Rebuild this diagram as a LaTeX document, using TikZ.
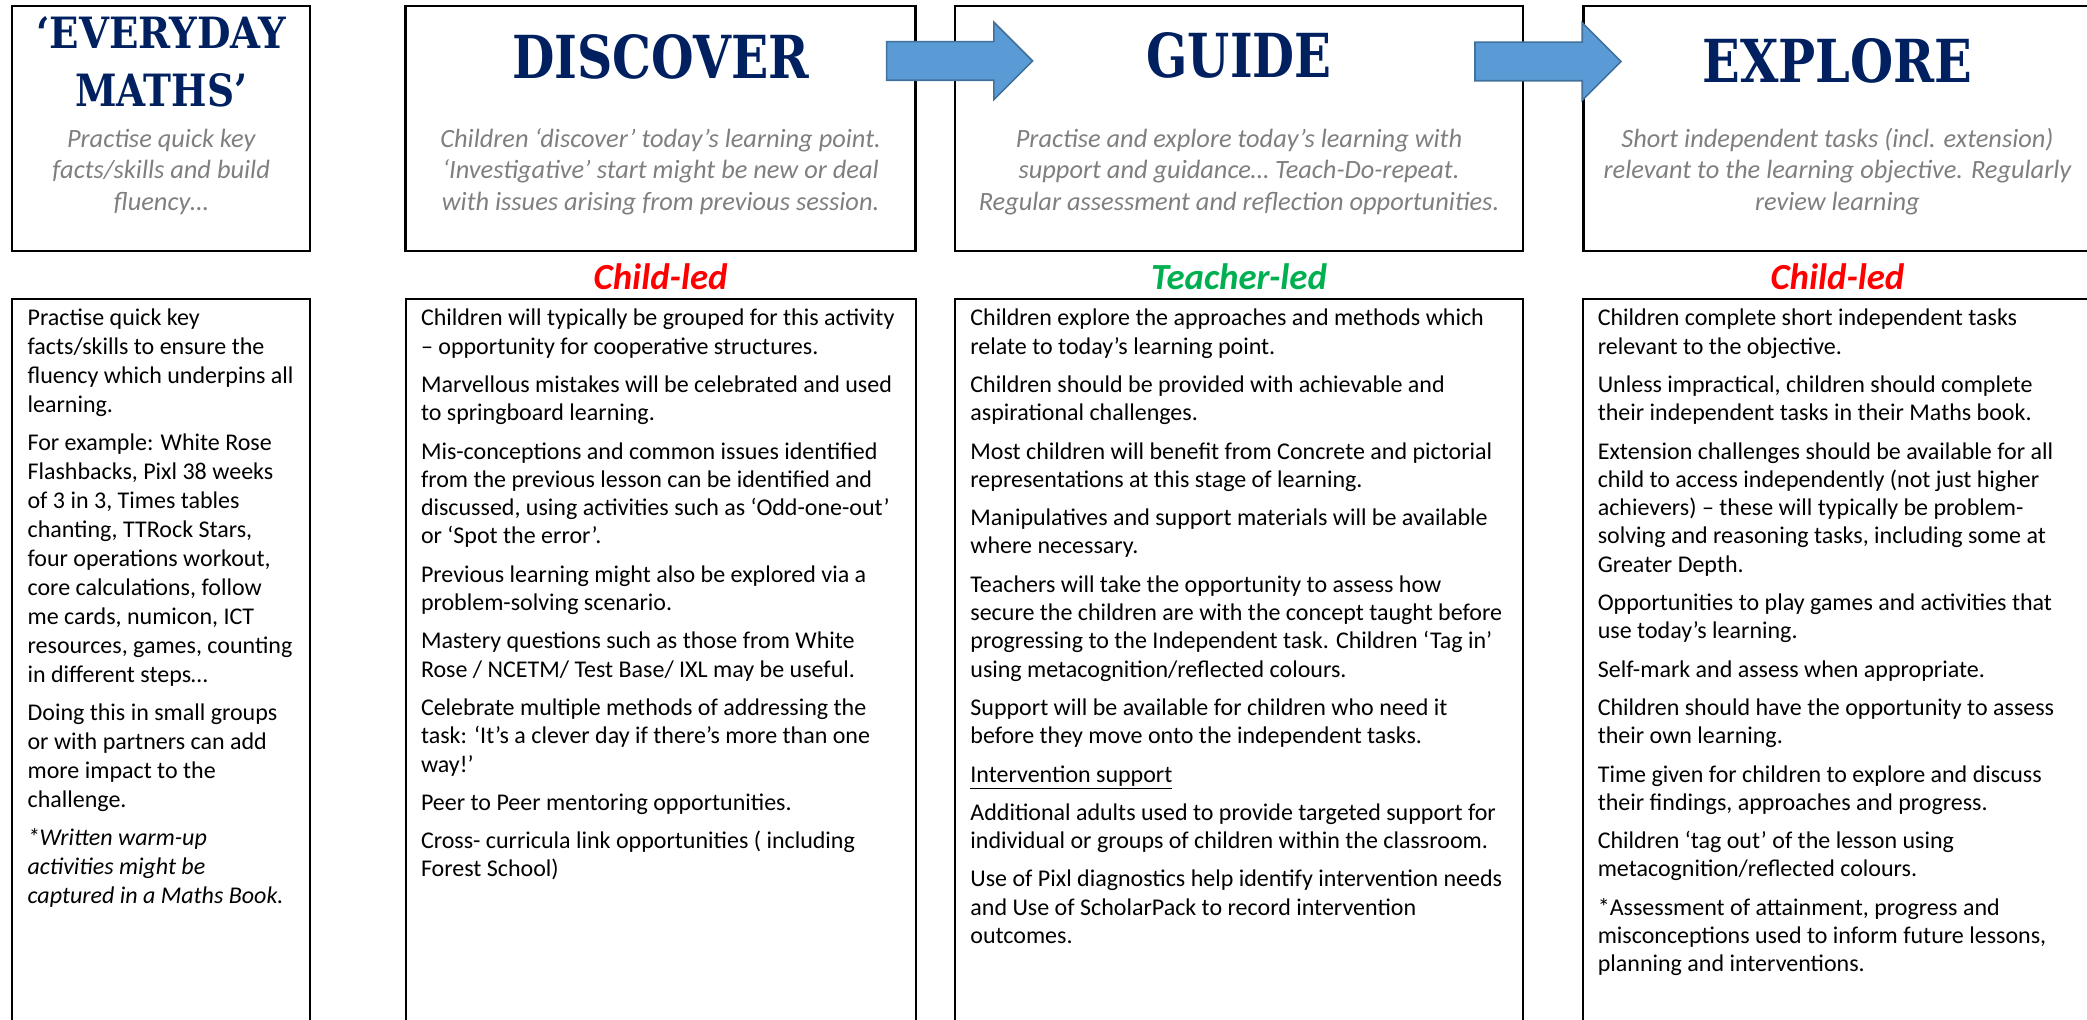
\documentclass[tikz,border=0pt]{standalone}
\usepackage{fontspec}
\usepackage{graphicx}
\setmainfont{Carlito}
\newfontfamily\stencilfont{DejaVu Serif}
\usetikzlibrary{positioning,shapes.arrows}

\definecolor{titlenavy}{HTML}{002060}
\definecolor{notegrey}{HTML}{7F7F7F}
\definecolor{childred}{HTML}{FF0000}
\definecolor{teachergreen}{HTML}{00B050}
\definecolor{arrowfill}{HTML}{5B9BD5}
\definecolor{arrowline}{HTML}{41719C}

\newcommand{\steptitle}[3]{\resizebox{#1}{#2}{\stencilfont\bfseries #3}}
\newcommand{\firstrule}[1]{\rule{0pt}{#1}}

\begin{document}
\begin{tikzpicture}[
  x = 0.5pt,
  y = -0.5pt,
  top-box/.style = {draw, line width=1.2pt, minimum height=122.5pt, inner sep=0pt},
  low-box/.style = {minimum height=361pt, inner sep=0pt, outer sep=0pt},
  low-line/.style = {line width=1pt},
  step-title/.style = {anchor=base, inner sep=0pt, text=titlenavy},
  grey-note/.style = {anchor=north, inner sep=0pt, align=center, text=notegrey,
    font=\fontsize{13.2}{15.75}\selectfont\itshape},
  led-label/.style = {anchor=base, inner sep=0pt,
    font=\fontsize{18.4}{22}\selectfont\bfseries\itshape},
  body-text/.style = {anchor=north west, inner sep=0pt, align=left,
    font=\fontsize{12}{14.15}\selectfont},
  loose-text/.style = {body-text, font=\fontsize{12}{14.5}\selectfont},
  block-arrow/.style = {single arrow, draw=arrowline, fill=arrowfill, line width=0.8pt,
    minimum height=73pt, minimum width=38pt, single arrow head extend=9.75pt,
    inner xsep=0pt, inner ysep=9.25pt, anchor=tail},
  ]
  \useasboundingbox (0,0) rectangle (2087,1020);

  \node[top-box, minimum width=149pt, anchor=north west] (everyday) at (11,5) {};
  \node[top-box, minimum width=255pt, right=46.5pt of everyday] (discover) {};
  \node[top-box, minimum width=284pt, right=18.5pt of discover] (guide) {};
  \node[top-box, minimum width=254pt, right=29pt of guide] (explore) {};

  \node[low-box, minimum width=149pt, below=23.5pt of everyday] (everyday-low) {};
  \node[low-box, minimum width=255pt, below=23.5pt of discover] (discover-low) {};
  \node[low-box, minimum width=284pt, below=23.5pt of guide] (guide-low) {};
  \node[low-box, minimum width=254pt, below=23.5pt of explore] (explore-low) {};
  \foreach \col in {everyday, discover, guide, explore}
    \draw[low-line] (\col-low.south west) |- (\col-low.north) -| (\col-low.south east);

  \node[step-title] (everyday-title) at ([yshift=-22pt]everyday.north)
    {\steptitle{125pt}{16pt}{‘EVERYDAY}};
  \node[step-title] (maths-title) at ([yshift=-51pt]everyday.north)
    {\steptitle{86pt}{16.5pt}{MATHS’}};
  \node[step-title] (discover-title) at ([yshift=-37pt]discover.north)
    {\steptitle{148.5pt}{22pt}{DISCOVER}};
  \node[step-title] (guide-title) at ([yshift=-36.5pt]guide.north)
    {\steptitle{92.5pt}{22.5pt}{GUIDE}};
  \node[step-title] (explore-title) at ([yshift=-39pt]explore.north)
    {\steptitle{135pt}{22pt}{EXPLORE}};

  \node[grey-note] (everyday-note) at ([yshift=-60pt]everyday.north)
    {\firstrule{11pt}Practise quick key\\ facts/skills and build\\ fluency…};
  \node[grey-note] (discover-note) at ([yshift=-60pt]discover.north)
    {\firstrule{11pt}Children ‘discover’ today’s learning point.\\ ‘Investigative’ start might be new or deal\\ with issues arising from previous session.};
  \node[grey-note] (guide-note) at ([yshift=-60pt]guide.north)
    {\firstrule{11pt}Practise and explore today’s learning with\\ support and guidance… Teach-Do-repeat.\\ Regular assessment and reflection opportunities.};
  \node[grey-note] (explore-note) at ([yshift=-60pt]explore.north)
    {\firstrule{11pt}Short independent tasks (incl. extension)\\ relevant to the learning objective. Regularly\\ review learning};

  \node[led-label, text=childred] (discover-led) at ([yshift=-18.5pt]discover.south) {Child-led};
  \node[led-label, text=teachergreen] (guide-led) at ([yshift=-18.5pt]guide.south) {Teacher-led};
  \node[led-label, text=childred] (explore-led) at ([yshift=-18.5pt]explore.south) {Child-led};

  \node[loose-text] (everyday-text) at ([xshift=7.5pt, yshift=-3pt]everyday-low.north west)
    {\firstrule{10pt}Practise quick key\\ facts/skills to ensure the\\ fluency which underpins all\\ learning.\\[4.5pt]
     For example: White Rose\\ Flashbacks, Pixl 38 weeks\\ of 3 in 3, Times tables\\ chanting, TTRock Stars,\\
     four operations workout,\\ core calculations, follow\\ me cards, numicon, ICT\\ resources, games, counting\\
     in different steps…\\[4.5pt]
     Doing this in small groups\\ or with partners can add\\ more impact to the\\ challenge.\\[4.5pt]
     \textit{*Written warm-up}\\ \textit{activities might be}\\ \textit{captured in a Maths Book.}};
  \node[body-text] (discover-text) at ([xshift=7.5pt, yshift=-3pt]discover-low.north west)
    {\firstrule{10pt}Children will typically be grouped for this activity\\ – opportunity for cooperative structures.\\[5pt]
     Marvellous mistakes will be celebrated and used\\ to springboard learning.\\[5pt]
     Mis-conceptions and common issues identified\\ from the previous lesson can be identified and\\
     discussed, using activities such as ‘Odd-one-out’\\ or ‘Spot the error’.\\[5pt]
     Previous learning might also be explored via a\\ problem-solving scenario.\\[5pt]
     Mastery questions such as those from White\\ Rose / NCETM/ Test Base/ IXL may be useful.\\[5pt]
     Celebrate multiple methods of addressing the\\ task: ‘It’s a clever day if there’s more than one\\ way!’\\[5pt]
     Peer to Peer mentoring opportunities.\\[5pt]
     Cross- curricula link opportunities ( including\\ Forest School)};
  \node[body-text] (guide-text) at ([xshift=7.5pt, yshift=-3pt]guide-low.north west)
    {\firstrule{10pt}Children explore the approaches and methods which\\ relate to today’s learning point.\\[5pt]
     Children should be provided with achievable and\\ aspirational challenges.\\[5pt]
     Most children will benefit from Concrete and pictorial\\ representations at this stage of learning.\\[5pt]
     Manipulatives and support materials will be available\\ where necessary.\\[5pt]
     Teachers will take the opportunity to assess how\\ secure the children are with the concept taught before\\
     progressing to the Independent task. Children ‘Tag in’\\ using metacognition/reflected colours.\\[5pt]
     Support will be available for children who need it\\ before they move onto the independent tasks.\\[5pt]
     \underline{Intervention support}\\[5pt]
     Additional adults used to provide targeted support for\\ individual or groups of children within the classroom.\\[5pt]
     Use of Pixl diagnostics help identify intervention needs\\ and Use of ScholarPack to record intervention\\ outcomes.};
  \node[body-text] (explore-text) at ([xshift=7pt, yshift=-3pt]explore-low.north west)
    {\firstrule{10pt}Children complete short independent tasks\\ relevant to the objective.\\[5pt]
     Unless impractical, children should complete\\ their independent tasks in their Maths book.\\[5pt]
     Extension challenges should be available for all\\ child to access independently (not just higher\\
     achievers) – these will typically be problem-\\ solving and reasoning tasks, including some at\\ Greater Depth.\\[5pt]
     Opportunities to play games and activities that\\ use today’s learning.\\[5pt]
     Self-mark and assess when appropriate.\\[5pt]
     Children should have the opportunity to assess\\ their own learning.\\[5pt]
     Time given for children to explore and discuss\\ their findings, approaches and progress.\\[5pt]
     Children ‘tag out’ of the lesson using\\ metacognition/reflected colours.\\[5pt]
     *Assessment of attainment, progress and\\ misconceptions used to inform future lessons,\\ planning and interventions.};

  \node[block-arrow] (discover-arrow) at ([xshift=-15.5pt, yshift=-28pt]discover.north east) {};
  \node[block-arrow] (guide-arrow) at ([xshift=-25pt, yshift=-28.25pt]guide.north east) {};
\end{tikzpicture}
\end{document}
